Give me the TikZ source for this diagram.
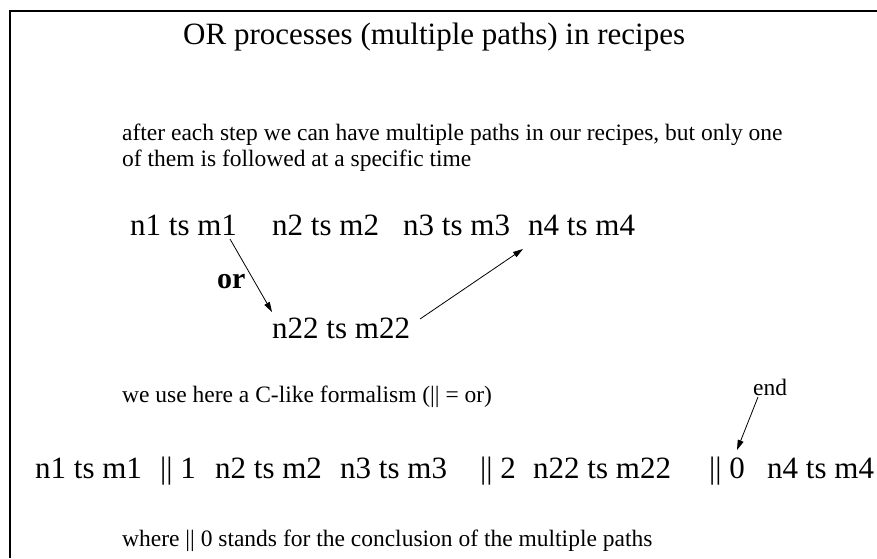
\documentclass[tikz,border=0pt]{standalone}
\usepackage{fontspec}
\setmainfont{Liberation Serif}
\usetikzlibrary{arrows.meta}
\begin{document}
\begin{tikzpicture}[x=1pt,y=-1pt,
  txt/.style={inner sep=0pt,anchor=base west},
  small/.style={txt,font=\fontsize{23.5}{28}\selectfont},
  big/.style={txt,font=\fontsize{31}{36}\selectfont},
  conn/.style={line width=0.8pt,-{Triangle[length=10pt,width=6pt]}}]
\useasboundingbox (0,0) rectangle (877,558);
\fill[white] (0,0) rectangle (877,558);
\draw[line width=2pt] (10,558) -- (10,11) -- (877,11);
\node[txt,font=\fontsize{31}{36}\selectfont] (title) at (183,44) {OR processes (multiple paths) in recipes};
\node[small] (p1) at (122,140) {after each step we can have multiple paths in our recipes, but only one};
\node[small] (p2) at (122,166) {of them is followed at a specific time};
\node[big] (r1) at (130,235) {n1 ts m1};
\node[big] (r2) at (272,235) {n2 ts m2};
\node[big] (r3) at (403,235) {n3 ts m3};
\node[big] (r4) at (528,235) {n4 ts m4};
\node[txt,font=\fontsize{30}{36}\selectfont\bfseries] (or) at (217,288) {or};
\node[big] (r22) at (272,338) {n22 ts m22};
\coordinate (a1s) at (230,239);
\coordinate (a1e) at (272,312);
\coordinate (a2s) at (420,319);
\coordinate (a2e) at (523,249);
\draw[conn] (a1s) -- (a1e);
\draw[conn] (a2s) -- (a2e);
\node[small] (clike) at (122,402) {we use here a C-like formalism (|| = or)};
\node[small] (endl) at (753,395) {end};
\node[big] (b1) at (35,478) {n1 ts m1};
\node[big] (b2) at (160,478) {|| 1};
\node[big] (b3) at (215,478) {n2 ts m2};
\node[big] (b4) at (340,478) {n3 ts m3};
\node[big] (b5) at (480,478) {|| 2};
\node[big] (b6) at (533,478) {n22 ts m22};
\node[big] (b7) at (709,478) {|| 0};
\node[big] (b8) at (767,478) {n4 ts m4};
\coordinate (a3s) at (758,397);
\coordinate (a3e) at (737,450);
\draw[conn] (a3s) -- (a3e);
\node[small] (where) at (122,546) {where || 0 stands for the conclusion of the multiple paths};
\end{tikzpicture}
\end{document}
